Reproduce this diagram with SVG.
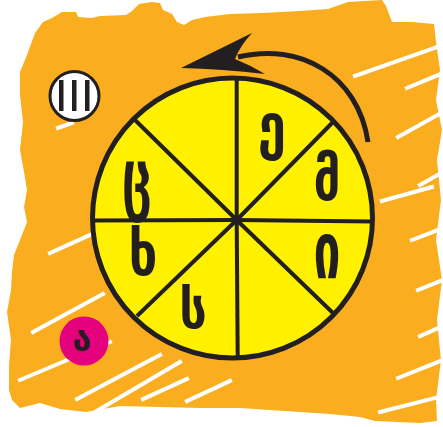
<svg xmlns="http://www.w3.org/2000/svg" width="443" height="427" viewBox="0 0 443 427">
<style>
.ink{fill:#231F20}
.spoke{stroke:#231F20;stroke-width:4;stroke-linecap:butt}
.streak{stroke:#FFFFFF;stroke-width:4;stroke-linecap:square;fill:none}
.glyph{font-family:"DejaVu Sans",sans-serif;font-weight:bold;fill:#231F20;text-anchor:middle}
</style>
<rect x="0" y="0" width="443" height="427" fill="#FFFFFF"/>
<g id="background">
<path fill="#FAAE1F" d="M35,33 L43,22 L52,18 L62,12 L76,12 L78,17 L92,18 L100,16 L126,15 L132,11 L139,4 L152,2 L160,3 L163,10 L172,14 L177,22 L184,25 L192,20 L205,17 L230,14 L262,13 L300,11 L328,9 L348,2 L382,0 L386,6 L389,14 L392,22 L412,22 L434,24 L436,42 L440,70 L436,100 L442,130 L437,160 L441,200 L436,240 L442,280 L437,320 L441,360 L436,400 L437,421 L420,423 L398,422 L375,421 L360,417 L330,414 L300,412 L270,410 L240,408 L200,408 L160,407 L120,406 L86,412 L60,409 L40,403 L20,408 L12,400 L9,390 L9,365 L11,340 L7,312 L11,290 L12,272 L14,255 L20,240 L27,222 L24,207 L27,190 L24,172 L20,150 L23,122 L20,95 L20,72 L27,55 Z"/>
<g class="streak">
<path d="M355,76 L440,46"/>
<path d="M407,88 L443,73"/>
<path d="M398,137 L443,112"/>
<path d="M420,185 L443,172"/>
<path d="M382,201 L432,187"/>
<path d="M412,240 L443,228"/>
<path d="M418,290 L443,280"/>
<path d="M420,336 L443,326"/>
<path d="M398,378 L443,360"/>
<path d="M380,412 L443,396"/>
<path d="M50,253 L90,235"/>
<path d="M33,332 L103,294"/>
<path d="M20,380 L110,342"/>
<path d="M77,399 L160,355"/>
<path d="M95,412 L180,362"/>
<path d="M143,399 L187,379"/>
<path d="M187,401 L230,381"/>
<path d="M58,128 L72,123"/>
</g>
</g>
<g id="connectors">
<path d="M368,142 C358,75 300,42 238,57" fill="none" stroke="#231F20" stroke-width="5"/>
<path class="ink" d="M181,68 L252,33 Q240,46 235,59 Q250,65 265,74 Q222,69 181,68 Z"/>
</g>
<g id="wheel">
<circle cx="232.5" cy="218" r="140" fill="#FFF100"/>
<line class="spoke" x1="236.7" y1="220" x2="236.7" y2="78"/>
<line class="spoke" x1="236.7" y1="220" x2="237.7" y2="358"/>
<line class="spoke" x1="236.7" y1="220" x2="93" y2="220.5"/>
<line class="spoke" x1="236.7" y1="220" x2="373" y2="221.5"/>
<line class="spoke" x1="236.7" y1="220" x2="134" y2="119"/>
<line class="spoke" x1="236.7" y1="220" x2="334" y2="121"/>
<line class="spoke" x1="236.7" y1="220" x2="334" y2="314"/>
<line class="spoke" x1="236.7" y1="220" x2="137" y2="316"/>
<circle class="ink" cx="236.7" cy="220" r="3.5"/>
<circle cx="232.5" cy="218" r="140" fill="none" stroke="#231F20" stroke-width="5"/>
<text class="glyph" font-size="60" transform="translate(272,147) scale(0.85,1)">ე</text>
<text class="glyph" font-size="56" transform="translate(327,200) scale(0.85,1.08)">მ</text>
<text class="glyph" font-size="60" transform="translate(327,278) scale(0.8,1.3)">ი</text>
<text class="glyph" font-size="54" transform="translate(193,328) scale(0.9,1)">ს</text>
<text class="glyph" font-size="60" transform="translate(143,275) scale(0.85,1)">ხ</text>
<text class="glyph" font-size="60" transform="translate(137,205) scale(0.8,1.3)">ც</text>
</g>
<g id="badge-III">
<circle cx="74.5" cy="96" r="24.5" fill="#FFFFFF" stroke="#231F20" stroke-width="3"/>
<rect class="ink" x="59" y="80" width="4.5" height="31"/>
<rect class="ink" x="72" y="80" width="4.5" height="31"/>
<rect class="ink" x="85" y="80" width="4.5" height="31"/>
</g>
<g id="badge-a">
<circle cx="84" cy="341" r="24.5" fill="#E5007D"/>
<text class="glyph" x="82" y="351" font-size="34">ა</text>
</g>
</svg>
